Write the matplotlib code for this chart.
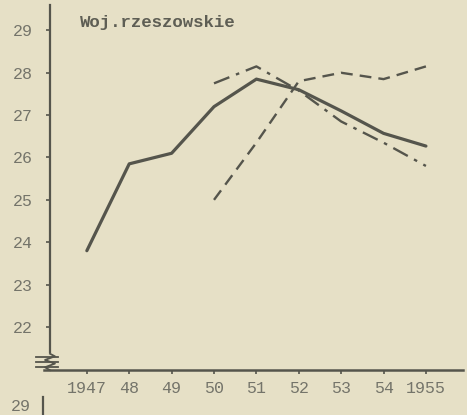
import matplotlib.pyplot as plt
from matplotlib.lines import Line2D
import numpy as np

# Wykres: woj. rzeszowskie, 1947-1955
years = [1947, 1948, 1949, 1950, 1951, 1952, 1953, 1954, 1955]
solid_vals = [23.8, 25.85, 26.1, 27.2, 27.85, 27.6, 27.1, 26.57, 26.27]

years_b = [1950, 1951, 1952, 1953, 1954, 1955]
dashdot_vals = [27.75, 28.15, 27.58, 26.85, 26.35, 25.8]
dashed_vals = [25.0, 26.35, 27.8, 28.0, 27.85, 28.15]

xlabels = ["1947", "48", "49", "50", "51", "52", "53", "54", "1955"]
yticks = [22, 23, 24, 25, 26, 27, 28, 29]

PAPER = "#e6e0c6"
INK = "#55554c"
TXT = "#74746a"
MONO = "Liberation Mono"

fig = plt.figure(figsize=(4.67, 4.15), dpi=100, facecolor=PAPER)
ax = fig.add_axes([0.107, 0.108, 0.884, 0.88])
ax.set_facecolor(PAPER)

ax.plot(years, solid_vals, color=INK, lw=2.3, solid_capstyle="round")
ax.plot(years_b, dashdot_vals, color=INK, lw=1.7, dashes=[7, 3, 1.5, 3])
ax.plot(years_b, dashed_vals, color=INK, lw=1.7, dashes=[5, 3])

ax.set_xlim(1946.13, 1955.87)
ax.set_ylim(20.98, 29.6)
ax.set_xticks(years)
ax.set_xticklabels(xlabels, family=MONO, fontsize=12, color=TXT)
ax.set_yticks(yticks)
ax.set_yticklabels([str(v) for v in yticks], family=MONO, fontsize=12, color=TXT)
ax.tick_params(axis="both", length=3, width=1.2, color=INK, direction="out")
ax.tick_params(axis="y", pad=9)
ax.tick_params(axis="x", pad=5)

for s in ["top", "right"]:
    ax.spines[s].set_visible(False)
ax.spines["left"].set_color(INK)
ax.spines["left"].set_linewidth(1.6)
ax.spines["left"].set_bounds(21.4, 29.6)
ax.spines["bottom"].set_color(INK)
ax.spines["bottom"].set_linewidth(1.8)
ax.spines["bottom"].set_bounds(1946.0, 1955.87)

# znak przerwania osi
tr = ax.transAxes
for yy in [0.035, 0.022, 0.009]:
    ax.add_line(Line2D([-0.033, 0.02], [yy, yy], transform=tr, color=INK,
                       lw=1.3, clip_on=False))
ax.add_line(Line2D([0, 0.012, -0.012, 0.012, -0.012, 0],
                   [0.045, 0.038, 0.028, 0.018, 0.008, 0.0], transform=tr,
                   color=INK, lw=1.3, clip_on=False))

ax.text(0.072, 0.952, "Woj.rzeszowskie", transform=tr, family=MONO,
        fontsize=12.5, fontweight="bold", color="#5e5e54",
        va="center", ha="left")

# początek kolejnego wykresu poniżej
fig.text(0.045, 0.02, "29", family=MONO, fontsize=12, color=TXT,
         va="center", ha="center")
fig.add_artist(Line2D([0.092, 0.092], [0.0, 0.043], transform=fig.transFigure,
                      color=INK, lw=1.6))

fig.savefig("out.png", dpi=100, facecolor=PAPER)
